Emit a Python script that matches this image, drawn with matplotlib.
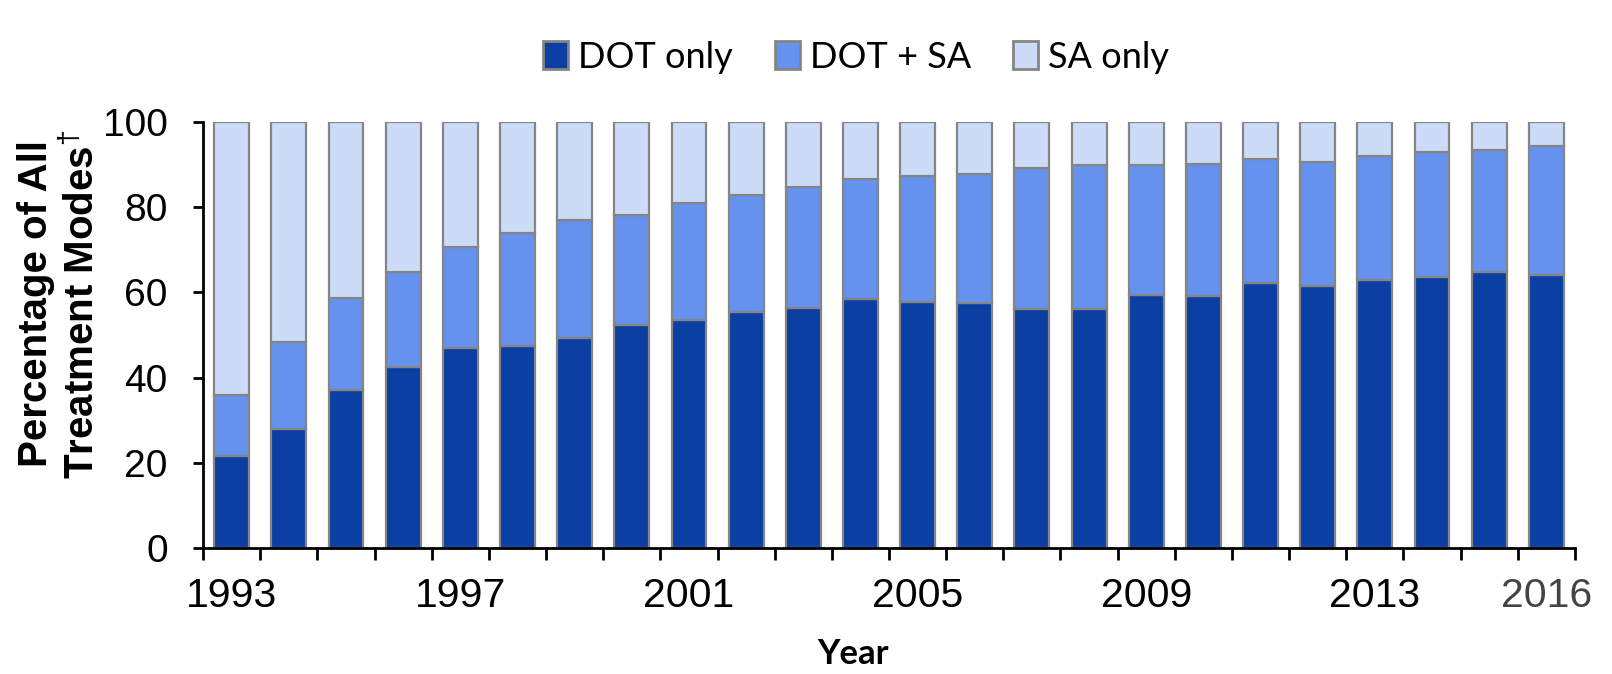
import numpy as np
import matplotlib
matplotlib.use("Agg")
import matplotlib.pyplot as plt

plt.rcParams["mathtext.fontset"] = "custom"
plt.rcParams["mathtext.rm"] = "Liberation Sans"
plt.rcParams["mathtext.bf"] = "Liberation Sans:bold"

# values (percent of all treatment modes)
years = list(range(1993, 2017))
dot_only = [21.7, 27.9, 37.0, 42.4, 46.9, 47.5, 49.3, 52.3, 53.4, 55.4,
            56.3, 58.5, 57.7, 57.4, 56.1, 56.1, 59.5, 59.1, 62.1, 61.6,
            63.0, 63.6, 64.9, 64.0]
dot_sa_top = [35.8, 48.4, 58.7, 64.7, 70.7, 73.9, 76.9, 78.2, 81.1, 82.9,
              84.7, 86.5, 87.4, 87.7, 89.3, 89.8, 89.8, 90.1, 91.3, 90.7,
              92.0, 92.9, 93.4, 94.4]
dot_sa = [t - d for t, d in zip(dot_sa_top, dot_only)]
sa_only = [100 - t for t in dot_sa_top]
labelled_years = [1993, 1997, 2001, 2005, 2009, 2013, 2016]

c_dot = "#0b3fa3"
c_dotsa = "#6592ee"
c_sa = "#ccdcf8"
edge = "#858585"

fig = plt.figure(figsize=(16.12, 6.74), dpi=100)
ax = fig.add_axes([0.126, 0.187, 0.851, 0.632])

x = np.arange(len(years))
w = 0.61
ax.bar(x, dot_only, w, color=c_dot, edgecolor=edge, linewidth=1.6, label="DOT only")
ax.bar(x, dot_sa, w, bottom=dot_only, color=c_dotsa, edgecolor=edge, linewidth=1.6, label="DOT + SA")
ax.bar(x, sa_only, w, bottom=dot_sa_top, color=c_sa, edgecolor=edge, linewidth=1.6, label="SA only")

ax.set_xlim(-0.5, len(years) - 0.5)
ax.set_ylim(0, 100)

for s in ["top", "right"]:
    ax.spines[s].set_visible(False)
for s in ["left", "bottom"]:
    ax.spines[s].set_linewidth(2)

ax.set_yticks([0, 20, 40, 60, 80, 100])
ax.tick_params(axis="y", length=7.5, width=2, pad=18, labelsize=28)
for t in ax.get_yticklabels():
    t.set_fontfamily("Liberation Sans")

# boundary ticks as minor, labels at bar centres on majors
ax.set_xticks(np.arange(-0.5, len(years)), minor=True)
ax.tick_params(axis="x", which="minor", length=8.6, width=2)
pos = [years.index(y) for y in labelled_years]
ax.set_xticks(pos)
ax.set_xticklabels([str(y) for y in labelled_years], fontfamily="Liberation Sans")
ax.tick_params(axis="x", which="major", length=0, pad=21, labelsize=29.5)
ax.get_xticklabels()[-1].set_color("#444444")

fig.text(0.037, 0.549, "Percentage of All\nTreatment Modes$^{\u2020}$", rotation=90,
         ha="center", va="center", fontsize=29, fontweight="bold",
         fontfamily="Liberation Sans", linespacing=1.22)

fig.text(0.529, 0.03, "Year", ha="center", va="center", fontsize=25,
         fontweight="bold", fontfamily="Lato")

leg = fig.legend(loc="center", bbox_to_anchor=(0.531, 0.915), ncol=3, frameon=False,
                 prop={"family": "Lato", "size": 26}, handlelength=0.69,
                 handleheight=0.8, handletextpad=0.28, columnspacing=1.17)
for p in leg.get_patches():
    p.set_linewidth(2)

fig.savefig("out.png", dpi=100, facecolor="white")
